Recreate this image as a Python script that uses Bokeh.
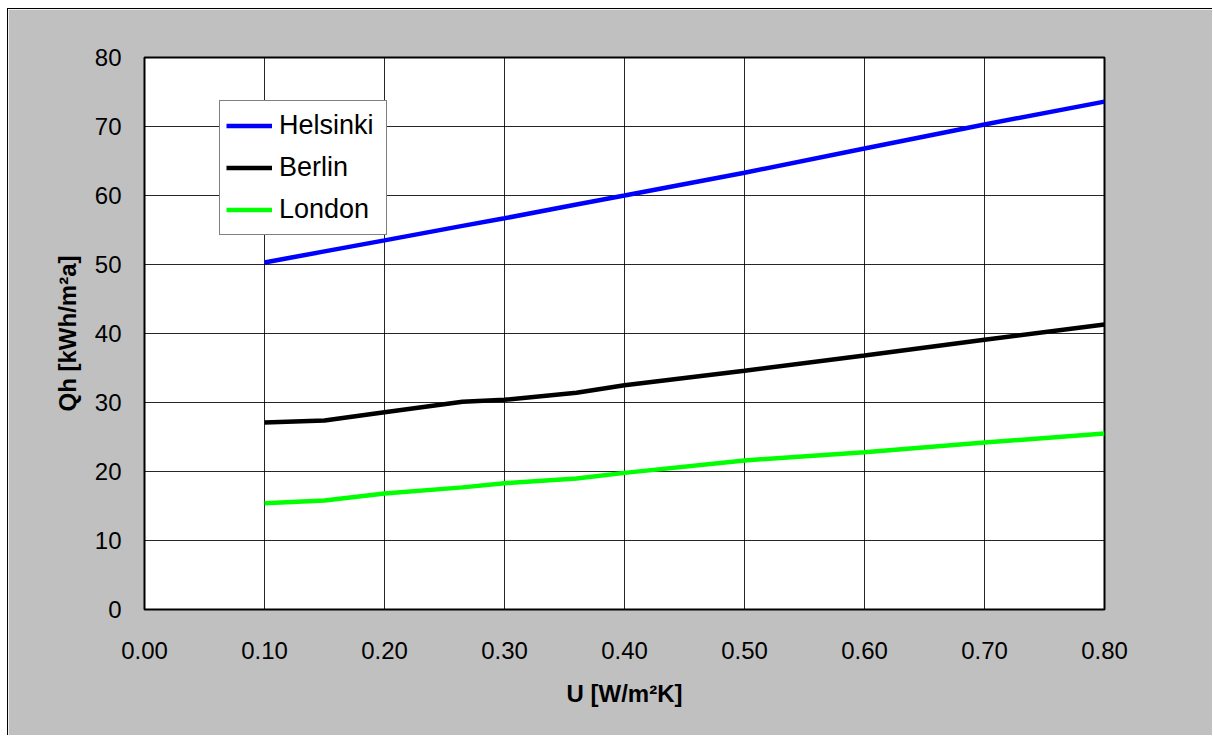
from bokeh.plotting import figure
from bokeh.models import Range1d, FixedTicker, NumeralTickFormatter, Legend, LegendItem
from bokeh.embed import file_html
from bokeh.resources import INLINE

# Data
u_values = [0.10, 0.15, 0.20, 0.265, 0.30, 0.36, 0.40, 0.50, 0.60, 0.70, 0.80]
helsinki = [50.3, 51.9, 53.5, 55.6, 56.7, 58.7, 60.0, 63.3, 66.8, 70.3, 73.6]
berlin = [27.1, 27.4, 28.6, 30.1, 30.4, 31.4, 32.5, 34.6, 36.8, 39.1, 41.3]
london = [15.4, 15.8, 16.8, 17.7, 18.3, 19.0, 19.8, 21.6, 22.8, 24.2, 25.5]
series_names = ["Helsinki", "Berlin", "London"]
x_ticks = [0.0, 0.1, 0.2, 0.3, 0.4, 0.5, 0.6, 0.7, 0.8]
y_ticks = [0, 10, 20, 30, 40, 50, 60, 70, 80]

FONT = "Liberation Sans"
GRAY = "#c0c0c0"

p = figure(width=1205, height=727, output_backend="svg", toolbar_location=None,
           x_range=Range1d(0, 0.8), y_range=Range1d(0, 80),
           min_border_left=136, min_border_right=109, min_border_top=48, min_border_bottom=127)
p.styles = {"border-left": "1px solid black", "border-top": "1px solid black",
            "margin-left": "7px", "margin-top": "8px"}
p.background_fill_color = "white"
p.border_fill_color = GRAY
p.outline_line_color = "black"
p.outline_line_width = 2

for ax in (p.xaxis[0], p.yaxis[0]):
    ax.axis_line_color = None
    ax.major_tick_line_color = None
    ax.minor_tick_line_color = None
    ax.major_label_text_font = FONT
    ax.major_label_text_font_size = "24px"
    ax.major_label_text_color = "black"
    ax.axis_label_text_font = FONT
    ax.axis_label_text_font_size = "24px"
    ax.axis_label_text_font_style = "bold"
    ax.axis_label_text_color = "black"

p.xaxis.ticker = FixedTicker(ticks=x_ticks)
p.xaxis.formatter = NumeralTickFormatter(format="0.00")
p.xaxis.major_label_standoff = 26
p.xaxis.axis_label = "U [W/m²K]"
p.xaxis.axis_label_standoff = 18

p.yaxis.ticker = FixedTicker(ticks=y_ticks)
p.yaxis.major_label_standoff = 17
p.yaxis.axis_label = "Qh [kWh/m²a]"
p.yaxis.axis_label_standoff = 11

p.grid.grid_line_color = "black"
p.grid.grid_line_width = 1
p.grid.grid_line_alpha = 0.85

colors = ["#0000ff", "#000000", "#00ff00"]
renderers = []
for name, ys, c in zip(series_names, [helsinki, berlin, london], colors):
    r = p.line(u_values, ys, line_color=c, line_width=4.5)
    renderers.append(LegendItem(label=name, renderers=[r]))

legend = Legend(items=renderers, location=(75, 374))
legend.label_text_font = FONT
legend.label_text_font_size = "27px"
legend.label_text_color = "black"
legend.border_line_color = "black"
legend.border_line_width = 1
legend.background_fill_color = "white"
legend.background_fill_alpha = 1
legend.glyph_width = 46
legend.glyph_height = 37
legend.label_height = 37
legend.label_width = 101
legend.label_standoff = 7
legend.spacing = 5
legend.padding = 6
legend.margin = 0
p.add_layout(legend, "center")

open("out.html", "w").write(file_html(p, INLINE))
